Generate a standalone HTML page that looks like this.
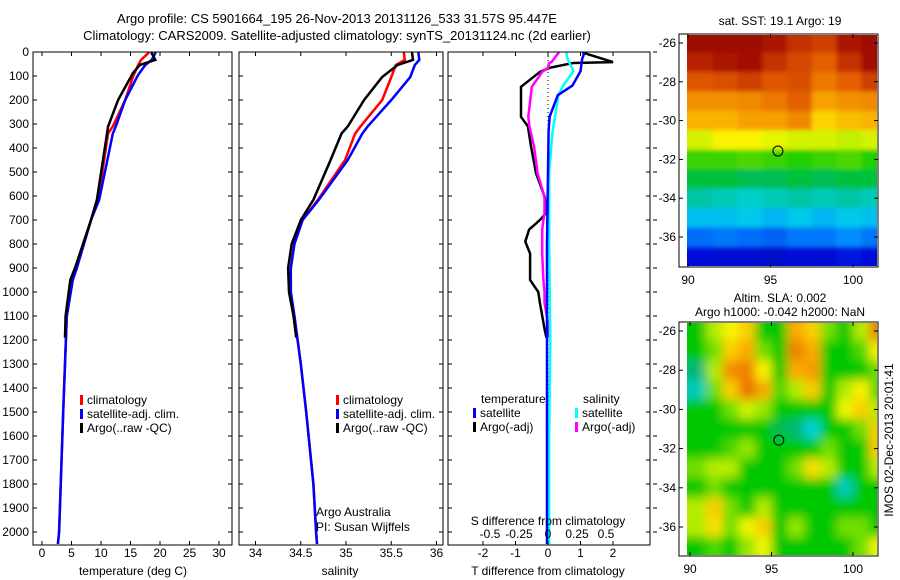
<!DOCTYPE html>
<html><head><meta charset="utf-8"><style>
html,body{margin:0;background:#fff;overflow:hidden;width:900px;height:580px}
svg{display:block;font-family:"Liberation Sans",sans-serif;font-size:12px}
</style></head><body>
<svg id="c" width="900" height="580" xmlns="http://www.w3.org/2000/svg">
<defs>
<clipPath id="m1c"><rect x="687" y="35" width="190" height="231"/></clipPath>
<clipPath id="m2c"><rect x="687" y="323" width="190" height="232"/></clipPath>
<filter id="bl"><feGaussianBlur stdDeviation="5"/></filter>
<filter id="bl2"><feGaussianBlur stdDeviation="2"/></filter>
</defs>
<text x="337" y="23" text-anchor="middle" font-size="13">Argo profile: CS 5901664_195 26-Nov-2013 20131126_533 31.57S 95.447E</text>
<text x="337" y="40" text-anchor="middle" font-size="13">Climatology: CARS2009. Satellite-adjusted climatology: synTS_20131124.nc (2d earlier)</text>
<g id="g"></g>
</svg>
<script>
// ---- data ----
const tDepth=[0,5,33,54,88,104,200,310,340,616,700,900,950,1100,1500,2000,2050];
const tClim=[18.0,18.0,16.8,16.3,15.7,15.4,14.1,12.0,11.2,9.5,8.3,5.9,5.2,4.2,3.6,2.9,2.7];
const tSat=[19.2,19.2,18.6,17.5,16.5,16.1,14.1,12.5,12.0,9.7,8.3,5.9,5.2,4.2,3.6,2.9,2.7];
const tArgoDepth=[0,5,33,54,88,200,310,616,700,900,950,1100,1190];
const tArgo=[18.6,18.6,19.2,16.6,15.4,12.9,11.2,9.3,8.3,5.6,4.8,4.0,3.9];
const sDepth=[0,5,33,54,104,200,310,340,450,616,700,800,900,1000,1100,1300,1500,1800,2000,2050];
const sClim=[35.64,35.64,35.65,35.55,35.5,35.4,35.16,35.1,34.99,34.69,34.52,34.43,34.39,34.39,34.43,34.5,34.56,34.64,34.67,34.68];
const sSat=[35.8,35.8,35.81,35.76,35.71,35.5,35.24,35.18,35.02,34.7,34.52,34.43,34.39,34.39,34.43,34.5,34.56,34.64,34.67,34.68];
const sArgoDepth=[0,5,33,54,104,200,310,340,450,616,700,800,900,1000,1100,1190];
const sArgo=[35.73,35.73,35.74,35.57,35.4,35.2,35.02,34.95,34.83,34.64,34.5,34.4,34.36,34.37,34.42,34.45];
const dDepth=[0,4,42,46,66,83,145,270,310,395,505,605,670,700,740,790,840,950,1000,1045,1160,1190];
const dTArgo=[1.1,1.1,2.0,0.77,0.05,-0.25,-0.83,-0.83,-0.62,-0.52,-0.37,-0.1,-0.05,-0.25,-0.58,-0.7,-0.55,-0.55,-0.3,-0.25,-0.1,-0.05];
const dSArgo=[0.09,0.09,0.03,0.01,0,-0.05,-0.14,-0.17,-0.16,-0.12,-0.09,-0.03,-0.03,-0.04,-0.05,-0.05,-0.05,-0.04,-0.03,-0.03,0.01,0.01];
const dSatDepth=[0,10,30,80,140,180,270,330,500,800,1200,1600,2050];
const dTSat=[1.08,1.1,1.05,1.0,0.75,0.3,0.05,0.02,0,-0.03,-0.03,-0.03,-0.03];
const dSSat=[0.16,0.16,0.17,0.22,0.13,0.09,0.06,0.04,0.01,0.01,0.02,0.01,0.01];
const depthTicks=[0,100,200,300,400,500,600,700,800,900,1000,1100,1200,1300,1400,1500,1600,1700,1800,1900,2000];
const tTicks=[0,5,10,15,20,25,30];
const sTicks=[34,34.5,35,35.5,36];
const tdTicks=[-2,-1,0,1,2];
const sdTicks=[-0.5,-0.25,0,0.25,0.5];
const sdLabels=['-0.5','-0.25','0','0.25','0.5'];
const sstLat=[-26,-27,-28,-29,-30,-31,-32,-33,-34,-35,-36,-37];
const sstLon=[90,91.5,93,94.5,96,97.5,99,100.5];
const sst=[
[22.4,22.4,22.4,22.2,21.8,21.6,22.2,22.4],[22,22.2,22.3,21.8,21.5,21.2,21.8,22.3],[21.3,21.4,21.6,21.3,21.4,20.9,21.2,21.6],
[20.6,20.6,20.7,20.9,21.2,20.4,20.6,20.7],[20.2,20.2,20.4,20.4,20.7,19.9,20.1,20.2],[19.3,19.6,19.6,19.4,19.3,19.3,19.2,19.3],
[18.5,18.5,18.6,18.5,18.4,18.5,18.6,18.4],[18,18,17.9,17.9,18,17.9,18,18],[17.5,17.4,17.3,17.4,17.5,17.4,17.5,17.4],
[16.9,16.9,17.0,16.8,17.0,16.8,17.0,16.9],[16.1,16.2,16.1,16.0,16.2,16.2,16.4,16.2],[15.1,15.0,15.0,14.9,15.1,15.0,15.2,15.1]];
const slaLat=[-26,-27,-28,-29,-30,-31,-32,-33,-34,-35,-36,-37];
const slaLon=[90,91,92,93,94,95,96,97,98,99,100,101];
const sla=[
[0,0.05,0.08,0.1,0,0,0.12,0.1,0.03,0,0.05,0.15],[0,0.03,0.1,0.12,0.03,0,0.15,0.12,0,0,0.02,0.08],
[-0.03,0.05,0.14,0.15,0.08,0,0.12,0.13,0,0,0,0.03],[-0.05,0.03,0.1,0.16,0.12,0.02,0.05,0.1,0,0.05,0.08,0.02],
[0,0,0.03,0.06,0.04,0,0,0,0,0.07,0.1,0.05],[0,0,0,0,0,-0.02,-0.03,-0.06,0,0,0.03,0.1],
[0,0,0.02,0.04,0,0,0,0,0.03,0,0,0.1],[0.03,0.05,0.05,0,0,0,0.03,0.09,0.05,0,0,0.05],
[0,0.03,0,0,0,0,0,0,0,-0.05,0,0],[0.05,0.1,0.03,0,0.05,0,0,0,0,0,0,0],
[0.05,0.09,0.03,0.07,0.1,0,0.04,0,0,0.03,0.03,0],[0,0.02,0,0.04,0.07,0,0,0,0,0,0.03,0.07]];
const mapLatTicks=[-26,-28,-30,-32,-34,-36];
const mapLonTicks=[90,95,100];
const argoPos=[95.45,-31.57];
// ---- scales ----
const yD=d=>52+d*0.24;
const xT=v=>42+v*5.9;
const xS=v=>255.5+(v-34)*90.5;
const xTD=v=>548+v*32.5;
const xSD=v=>548+v*116;
const m1x=l=>688+(l-90)*16.5, m1y=l=>43+(-26-l)*19.4;
const m2x=l=>690+(l-90)*16.3, m2y=l=>331+(-26-l)*19.6;
const NS='http://www.w3.org/2000/svg';
const G=document.getElementById('g');
function el(t,a,p){const e=document.createElementNS(NS,t);for(const k in a)e.setAttribute(k,a[k]);(p||G).appendChild(e);return e;}
function txt(x,y,s,anc,p){const e=el('text',{x:x,y:y,'text-anchor':anc||'start'},p);e.textContent=s;return e;}
function line(xs,ds,xf,col,w,name){
  const pts=xs.map((v,i)=>xf(v).toFixed(1)+','+yD(ds[i]).toFixed(1)).join(' ');
  const e=el('polyline',{points:pts,fill:'none',stroke:col,'stroke-width':w});
  
  
}
function frame(x0,x1,name){
  const r=el('rect',{x:x0,y:52,width:x1-x0,height:493,fill:'none',stroke:'#000'});
  
  
}
function depthTicksFn(x0,x1,lab,right){
  depthTicks.forEach(d=>{const y=yD(d);
    el('line',{x1:x0,x2:x0+4,y1:y,y2:y,stroke:'#000'});
    el('line',{x1:x1,x2:x1-4,y1:y,y2:y,stroke:'#000'});
    if(right) el('line',{x1:x1+3,x2:x1+7,y1:y,y2:y,stroke:'#000'});
    if(lab){const t=txt(29,y+4,String(d),'end');}
  });
}
function xTicks(vals,labs,xf,y,yl){
  vals.forEach((v,i)=>{const x=xf(v);
    el('line',{x1:x,x2:x,y1:545,y2:541,stroke:'#000'});
    el('line',{x1:x,x2:x,y1:52,y2:56,stroke:'#000'});
    const t=txt(x,yl,labs[i],'middle');
  });
}
function legend(x,y,items){
  items.forEach((it,i)=>{
    const r=el('rect',{x:x,y:y+i*14-9,width:3,height:10,fill:it[0]});
    
    
    const t=txt(x+7,y+i*14,it[1]);
    
    
  });
}
// panel 1
line(tClim,tDepth,xT,'#f00',2.5,'temp-climatology-line');
line(tSat,tDepth,xT,'#00f',2.5,'temp-satellite-line');
line(tArgo,tArgoDepth,xT,'#000',2.5,'temp-argo-line');
frame(33,232,'temperature-panel');
depthTicksFn(33,232,true);
xTicks(tTicks,tTicks.map(String),xT,545,557);
txt(133,575,'temperature (deg C)','middle');
legend(80,404,[['#f00','climatology'],['#00f','satellite-adj. clim.'],['#000','Argo(..raw -QC)']]);
// panel 2
line(sClim,sDepth,xS,'#f00',2.5,'sal-climatology-line');
line(sSat,sDepth,xS,'#00f',2.5,'sal-satellite-line');
line(sArgo,sArgoDepth,xS,'#000',2.5,'sal-argo-line');
frame(239,443,'salinity-panel');
depthTicksFn(239,443,false);
xTicks(sTicks,sTicks.map(String),xS,545,557);
txt(340,575,'salinity','middle');
legend(336,404,[['#f00','climatology'],['#00f','satellite-adj. clim.'],['#000','Argo(..raw -QC)']]);
txt(316,516,'Argo Australia');
txt(316,531,'PI: Susan Wijffels');
// panel 3
el('line',{x1:548,x2:548,y1:52,y2:545,stroke:'#000','stroke-dasharray':'1,3'});
line(dTArgo,dDepth,xTD,'#000',2.5,'tdiff-argo-line');
line(dSArgo,dDepth,xSD,'#f0f',2.5,'sdiff-argo-line');
line(dSSat,dSatDepth,xSD,'#0ff',2.5,'sdiff-satellite-line');
line(dTSat,dSatDepth,xTD,'#00f',2.5,'tdiff-satellite-line');
frame(448,650,'difference-panel');
depthTicksFn(448,650,false,true);
xTicks(tdTicks,tdTicks.map(String),xTD,545,557);
sdTicks.forEach((v,i)=>{const t=txt(xSD(v),538,sdLabels[i],'middle');});
txt(548,525,'S difference from climatology','middle');
txt(548,575,'T difference from climatology','middle');
txt(481,403,'temperature');
txt(583,403,'salinity');
legend(473,417,[['#00f','satellite'],['#000','Argo(-adj)']]);
legend(575,417,[['#0ff','satellite'],['#f0f','Argo(-adj)']]);
// maps
const cmapStops=[[0,[0,0,140]],[0.15,[0,20,230]],[0.28,[0,140,255]],[0.37,[0,215,230]],[0.44,[0,185,120]],[0.5,[0,200,0]],[0.58,[150,230,0]],[0.65,[250,250,0]],[0.74,[250,170,0]],[0.84,[230,100,0]],[0.93,[190,40,0]],[1,[150,0,0]]];
function cmap(t){t=Math.max(0,Math.min(1,t));
  for(let i=1;i<cmapStops.length;i++){const a=cmapStops[i-1],b=cmapStops[i];
    if(t<=b[0]){const f=(t-a[0])/(b[0]-a[0]);const c=a[1].map((v,k)=>Math.round(v+(b[1][k]-v)*f));return `rgb(${c})`;}}
  return 'rgb(150,0,0)';}
function heat(vals,lats,lons,dlon,xf,yf,lo,hi,clip,name,filt){
  const g=el('g',{'clip-path':'url(#'+clip+')'});
  const gi=el('g',{filter:'url(#'+filt+')'},g);
  vals.forEach((row,i)=>row.forEach((v,j)=>{
    const x0=xf(lons[j]-(j==0?3:0)),x1=xf(lons[j]+dlon+(j==row.length-1?3:0));
    const y0=yf(lats[i]+0.5+(i==0?3:0)),y1=yf(lats[i]-0.5-(i==vals.length-1?3:0));
    const r=el('rect',{x:x0,y:y0,width:x1-x0+0.5,height:y1-y0+0.5,fill:cmap((v-lo)/(hi-lo))},gi);
    
    
  }));
}
function mapAxes(y0,y1,xf,yf,name){
  const r=el('rect',{x:679,y:y0,width:199,height:y1-y0,fill:'none',stroke:'#000'});
  
  
  mapLatTicks.forEach(l=>{const y=yf(l);el('line',{x1:679,x2:683,y1:y,y2:y,stroke:'#000'});el('line',{x1:878,x2:874,y1:y,y2:y,stroke:'#000'});
    const t=txt(676,y+4,String(l),'end');});
  mapLonTicks.forEach(l=>{const x=xf(l);el('line',{x1:x,x2:x,y1:y1,y2:y1-4,stroke:'#000'});el('line',{x1:x,x2:x,y1:y0,y2:y0+4,stroke:'#000'});
    const t=txt(x,y1+17,String(l),'middle');});
}
heat(sst,sstLat,sstLon,1.5,m1x,m1y,14,22.5,'m1c','sst-cell','bl2');
mapAxes(34,267,m1x,m1y,'sst-map');
el('circle',{cx:m1x(argoPos[0]),cy:m1y(argoPos[1]),r:5,fill:'none',stroke:'#000'});
txt(780,25,'sat. SST: 19.1 Argo: 19','middle');
heat(sla,slaLat,slaLon,1,m2x,m2y,-0.25,0.25,'m2c','sla-cell','bl');
mapAxes(322,556,m2x,m2y,'sla-map');
el('circle',{cx:m2x(argoPos[0]),cy:m2y(argoPos[1]),r:5,fill:'none',stroke:'#000'});
txt(780,302,'Altim. SLA: 0.002','middle');
txt(780,316,'Argo h1000: -0.042 h2000: NaN','middle');
const rt=txt(0,0,'IMOS 02-Dec-2013 20:01:41','middle');
rt.setAttribute('transform','translate(893,440) rotate(-90)');


</script>
</body></html>
